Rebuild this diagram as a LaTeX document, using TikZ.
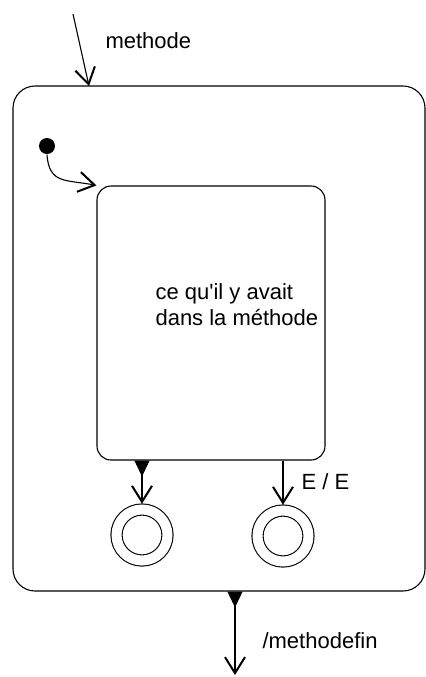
\documentclass[tikz,border=0pt]{standalone}
\usepackage{fontspec}
\setmainfont{Liberation Sans}
\usetikzlibrary{arrows.meta,positioning}

\begin{document}
\begin{tikzpicture}[
  x=0.5pt, y=-0.5pt,
  font=\fontsize{11}{13}\selectfont,
  line width=0.55pt,
  etat/.style={draw, rounded corners=11pt, inner sep=0pt},
  sousetat/.style={draw, rounded corners=7pt, inner sep=0pt},
  initial/.style={circle, fill=black, minimum size=8pt, inner sep=0pt},
  final/.style={circle, draw, double, double distance=5pt, minimum size=25.5pt,
               inner sep=0pt, outer sep=2.9pt},
  arr/.style={-{Straight Barb[length=8pt, width=10pt, line width=1pt]}},
  sortie/.style={{Triangle[reversed, length=8pt, width=7.5pt]}-{Straight Barb[length=8pt, width=10pt, line width=1pt]}}
]
\useasboundingbox (0,0) rectangle (426,677);
\node[etat, minimum width=206pt, minimum height=252.5pt] (methode) at (219,338.5) {};
\node[sousetat, minimum width=114pt, minimum height=137pt] (corps) at (211,323) {};
\node[anchor=west, align=left, inner sep=0pt] (texte) at (155,305) {ce qu\textquotesingle il y avait\\dans la méthode};
\node[initial] (debut) at (47,146) {};
\node[final] (fin1) at (142,535) {};
\node[final] (fin2) at (283,536) {};
\coordinate (entree) at (73,14);
\coordinate (bord) at (89,86);
\coordinate (dehors) at (235,675);
% libelles
\node[anchor=base west, inner sep=0pt] (lmethode) at (105,48) {methode};
\node[anchor=base west, inner sep=0pt] (le) at (301,489) {E / E};
\node[anchor=base west, inner sep=0pt] (lfin) at (262,648) {/methodefin};
% transitions
\draw[arr] (entree) -- (bord);
\draw[arr] (debut.south) .. controls +(2,30) and +(-30,-6) .. (corps.north west);
\draw[sortie] (corps.south -| fin1.north) -- (fin1.north);
\draw[arr] (corps.south -| fin2.north) -- (fin2.north);
\draw[sortie] (methode.south -| dehors) -- (dehors);
\end{tikzpicture}
\end{document}
